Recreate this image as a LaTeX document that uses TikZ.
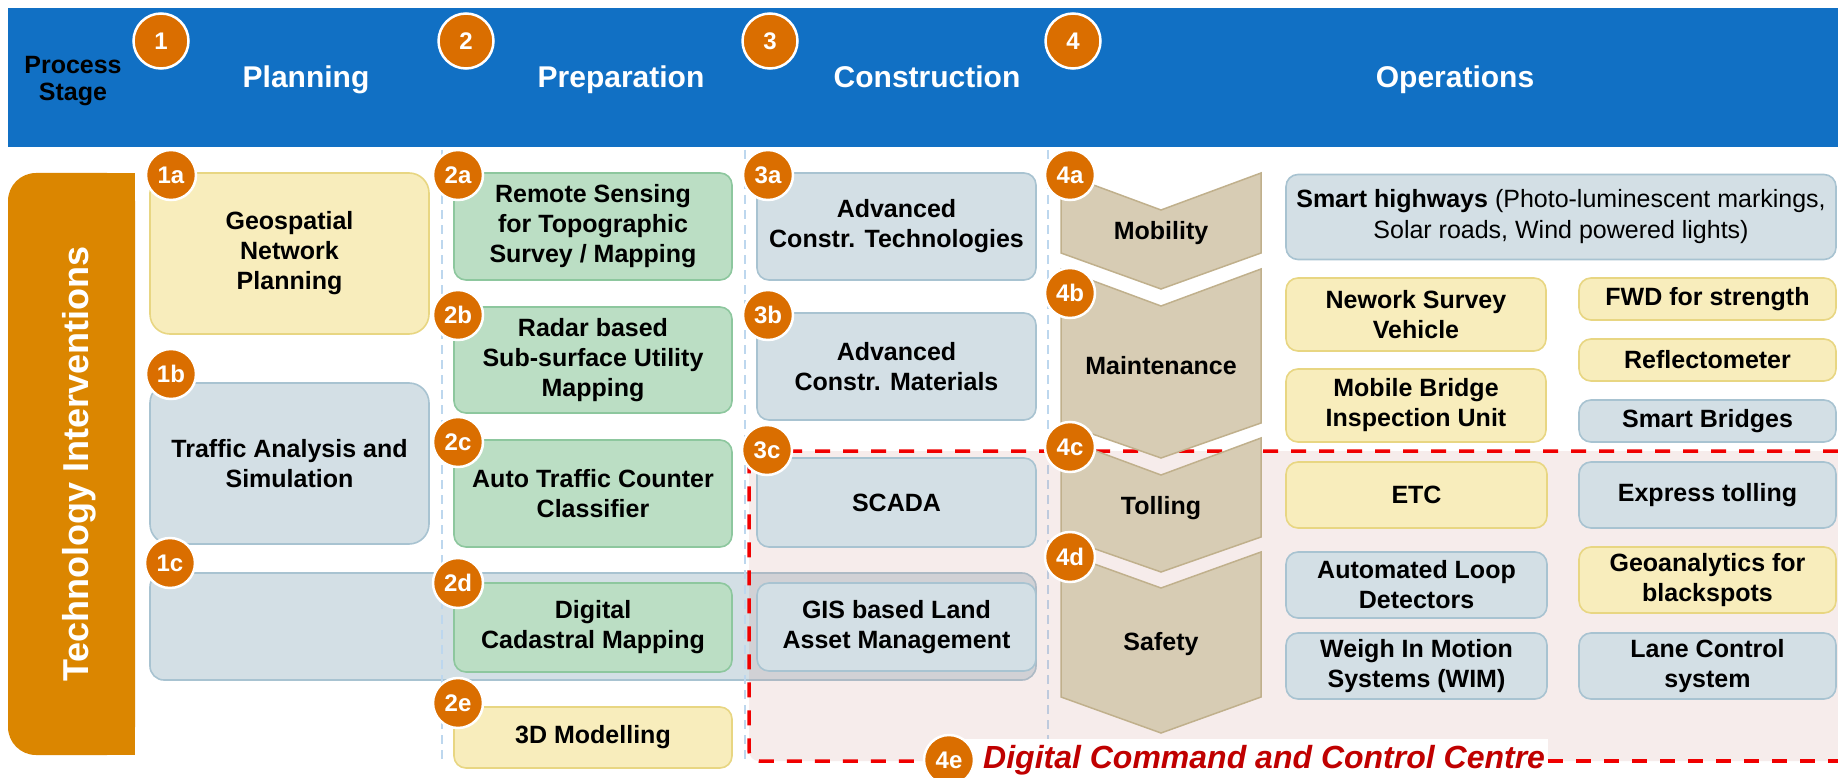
\documentclass[tikz,border=0pt]{standalone}
\usepackage{fontspec}
\setmainfont{Liberation Sans}
\definecolor{hdrblue}{RGB}{17,112,196}
\definecolor{barorange}{RGB}{219,134,0}
\definecolor{numorange}{RGB}{218,110,0}
\definecolor{yfill}{RGB}{248,237,188}
\definecolor{yline}{RGB}{232,214,130}
\definecolor{bfill}{RGB}{211,223,229}
\definecolor{bline}{RGB}{168,195,209}
\definecolor{gfill}{RGB}{187,222,196}
\definecolor{gline}{RGB}{141,199,158}
\definecolor{chfill}{RGB}{215,204,180}
\definecolor{chline}{RGB}{192,176,140}
\definecolor{pinkov}{RGB}{200,140,135}
\definecolor{sepblue}{RGB}{189,215,238}
\definecolor{dashred}{RGB}{240,0,0}
\definecolor{dcred}{RGB}{192,0,0}
\begin{document}
\begin{tikzpicture}[x=1pt,y=-1pt,
 boxbase/.style={rounded corners=12pt, line width=1.6pt, inner sep=2pt, outer sep=0pt, align=center, font=\bfseries\fontsize{25}{30}\selectfont},
 ybox/.style={boxbase, fill=yfill, draw=yline},
 bbox/.style={boxbase, fill=bfill, draw=bline},
 gbox/.style={boxbase, fill=gfill, draw=gline},
 num/.style={circle, fill=numorange, draw=white, line width=2.5pt, minimum size=50pt, inner sep=0pt, text=white, font=\bfseries\fontsize{24}{24}\selectfont},
 hnum/.style={num, minimum size=55pt},
 htitle/.style={anchor=base, text=white, font=\bfseries\fontsize{30}{30}\selectfont},
 chev/.style={fill=chfill, draw=chline, line width=1.5pt, line join=miter},
 chevlabel/.style={font=\bfseries\fontsize{25}{30}\selectfont},
 sepline/.style={draw=sepblue, line width=2pt, dash pattern=on 9pt off 6pt},
 reddash/.style={draw=dashred, line width=3.5pt, dash pattern=on 15pt off 13pt},
]
\useasboundingbox (0,0) rectangle (1838,778);
\fill[white] (0,0) rectangle (1838,778);

% ---------- header ----------
\fill[hdrblue] (8,8) rectangle (1838,147);
\node[font=\bfseries\fontsize{25}{27}\selectfont, align=center] (ps) at (73,81) {Process\\Stage};
\node[htitle] (hplan) at (306,88) {Planning};
\node[htitle] (hprep) at (621,88) {Preparation};
\node[htitle] (hcons) at (927,88) {Construction};
\node[htitle] (hops) at (1455,88) {Operations};
\node[hnum] (h1) at (161,41) {1};
\node[hnum] (h2) at (466,41) {2};
\node[hnum] (h3) at (770,41) {3};
\node[hnum] (h4) at (1073,41) {4};

% ---------- left bar ----------
\fill[barorange, rounded corners=28pt] (8,173) rectangle (135,755);
\fill[barorange] (80,173) rectangle (135,755);
\node[rotate=90, anchor=base, text=white, font=\bfseries\fontsize{36}{36}\selectfont] (techint) at (88,464) {Technology Interventions};

% ---------- wide 1c box ----------
\node[bbox, rounded corners=14pt, minimum width=886pt, minimum height=107pt] (b1c) at (593,626.5) {};

% ---------- separators ----------
\draw[sepline] (442,150) -- (442,762);
\draw[sepline] (745,150) -- (745,762);
\draw[sepline] (1048,150) -- (1048,740);

% ---------- command centre region ----------
\fill[pinkov, fill opacity=0.16, rounded corners=10pt] (749,451) rectangle (1860,761);
\draw[reddash, rounded corners=10pt] (1838,451) -- (749,451) -- (749,761) -- (915,761);
\draw[reddash] (1548,761) -- (1838,761);
\fill[white] (950,739) rectangle (1548,778);

% ---------- column 1 ----------
\node[ybox, rounded corners=20pt, minimum width=279pt, minimum height=161pt] (b1a) at (289.5,253.5) {Geospatial\\Network\\Planning};
\node[bbox, rounded corners=20pt, minimum width=279pt, minimum height=161pt] (b1b) at (289.5,463.5) {Traffic Analysis and\\Simulation};

% ---------- column 2 ----------
\node[gbox, minimum width=278pt, minimum height=107pt] (b2a) at (593,226.5) {Remote Sensing\\for Topographic\\Survey / Mapping};
\node[gbox, minimum width=278pt, minimum height=106pt] (b2b) at (593,360) {Radar based\\Sub-surface Utility\\Mapping};
\node[gbox, minimum width=278pt, minimum height=107pt] (b2c) at (593,493.5) {Auto Traffic Counter\\Classifier};
\node[gbox, minimum width=278pt, minimum height=89pt] (b2d) at (593,627.5) {Digital\\Cadastral Mapping};
\node[ybox, minimum width=278pt, minimum height=61pt] (b2e) at (593,737.5) {3D Modelling};

% ---------- column 3 ----------
\node[bbox, minimum width=279pt, minimum height=107pt] (b3a) at (896.5,226.5) {Advanced\\Constr. Technologies};
\node[bbox, minimum width=279pt, minimum height=107pt] (b3b) at (896.5,366.5) {Advanced\\Constr. Materials};
\node[bbox, minimum width=279pt, minimum height=89pt] (b3c) at (896.5,502.5) {SCADA};
\node[bbox, minimum width=279pt, minimum height=88pt] (bgis) at (896.5,627) {GIS based Land\\Asset Management};

% ---------- chevrons ----------
\draw[chev] (1061,173) -- (1161,210) -- (1261,173) -- (1261,253) -- (1161,289) -- (1061,253) -- cycle;
\draw[chev] (1061,269) -- (1161,306) -- (1261,269) -- (1261,423) -- (1161,458) -- (1061,423) -- cycle;
\draw[chev] (1061,438) -- (1161,475) -- (1261,438) -- (1261,537) -- (1161,572) -- (1061,537) -- cycle;
\draw[chev] (1061,552) -- (1161,588) -- (1261,552) -- (1261,697) -- (1161,733) -- (1061,697) -- cycle;
\node[chevlabel] (lmob) at (1161,233) {Mobility};
\node[chevlabel] (lmai) at (1161,366) {Maintenance};
\node[chevlabel] (ltol) at (1161,508) {Tolling};
\node[chevlabel] (lsaf) at (1161,644) {Safety};

% ---------- operations boxes ----------
\node[bbox, font=\fontsize{25}{31}\selectfont, minimum width=550pt, minimum height=85pt] (bsh) at (1561,217) {\textbf{Smart highways} (Photo-luminescent markings,\\Solar roads, Wind powered lights)};
\node[ybox, minimum width=260pt, minimum height=73pt] (bnsv) at (1416,314.5) {Nework Survey\\Vehicle};
\node[ybox, minimum width=260pt, minimum height=73pt] (bmbi) at (1416,405.5) {Mobile Bridge\\Inspection Unit};
\node[ybox, minimum width=257pt, minimum height=42pt] (bfwd) at (1707.5,299) {FWD for strength};
\node[ybox, minimum width=257pt, minimum height=42pt] (bref) at (1707.5,360) {Reflectometer};
\node[bbox, minimum width=257pt, minimum height=42pt] (bsb) at (1707.5,421) {Smart Bridges};
\node[ybox, minimum width=261pt, minimum height=66pt] (betc) at (1416.5,495) {ETC};
\node[bbox, minimum width=257pt, minimum height=66pt] (bext) at (1707.5,495) {Express tolling};
\node[bbox, minimum width=261pt, minimum height=66pt] (bald) at (1416.5,585) {Automated Loop\\Detectors};
\node[ybox, minimum width=257pt, minimum height=66pt] (bgeo) at (1707.5,580) {Geoanalytics for\\blackspots};
\node[bbox, minimum width=261pt, minimum height=66pt] (bwim) at (1416.5,666) {Weigh In Motion\\Systems (WIM)};
\node[bbox, minimum width=257pt, minimum height=66pt] (blane) at (1707.5,666) {Lane Control\\system};

% ---------- numbered circles ----------
\node[num] (c1a) at (171,175) {1a};
\node[num] (c1b) at (171,374) {1b};
\node[num] (c1c) at (170,563) {1c};
\node[num] (c2a) at (458,175) {2a};
\node[num] (c2b) at (458,315) {2b};
\node[num] (c2c) at (458,442) {2c};
\node[num] (c2d) at (458,583) {2d};
\node[num] (c2e) at (458,703) {2e};
\node[num] (c3a) at (768,175) {3a};
\node[num] (c3b) at (768,315) {3b};
\node[num] (c3c) at (767,450) {3c};
\node[num] (c4a) at (1070,175) {4a};
\node[num] (c4b) at (1070,293) {4b};
\node[num] (c4c) at (1070,447) {4c};
\node[num] (c4d) at (1070,557) {4d};
\node[num] (c4e) at (949,760) {4e};

% ---------- label ----------
\node[anchor=base west, inner sep=0pt, text=dcred, font=\bfseries\itshape\fontsize{32}{32}\selectfont] (dcc) at (983,768) {Digital Command and Control Centre};
\end{tikzpicture}
\end{document}
